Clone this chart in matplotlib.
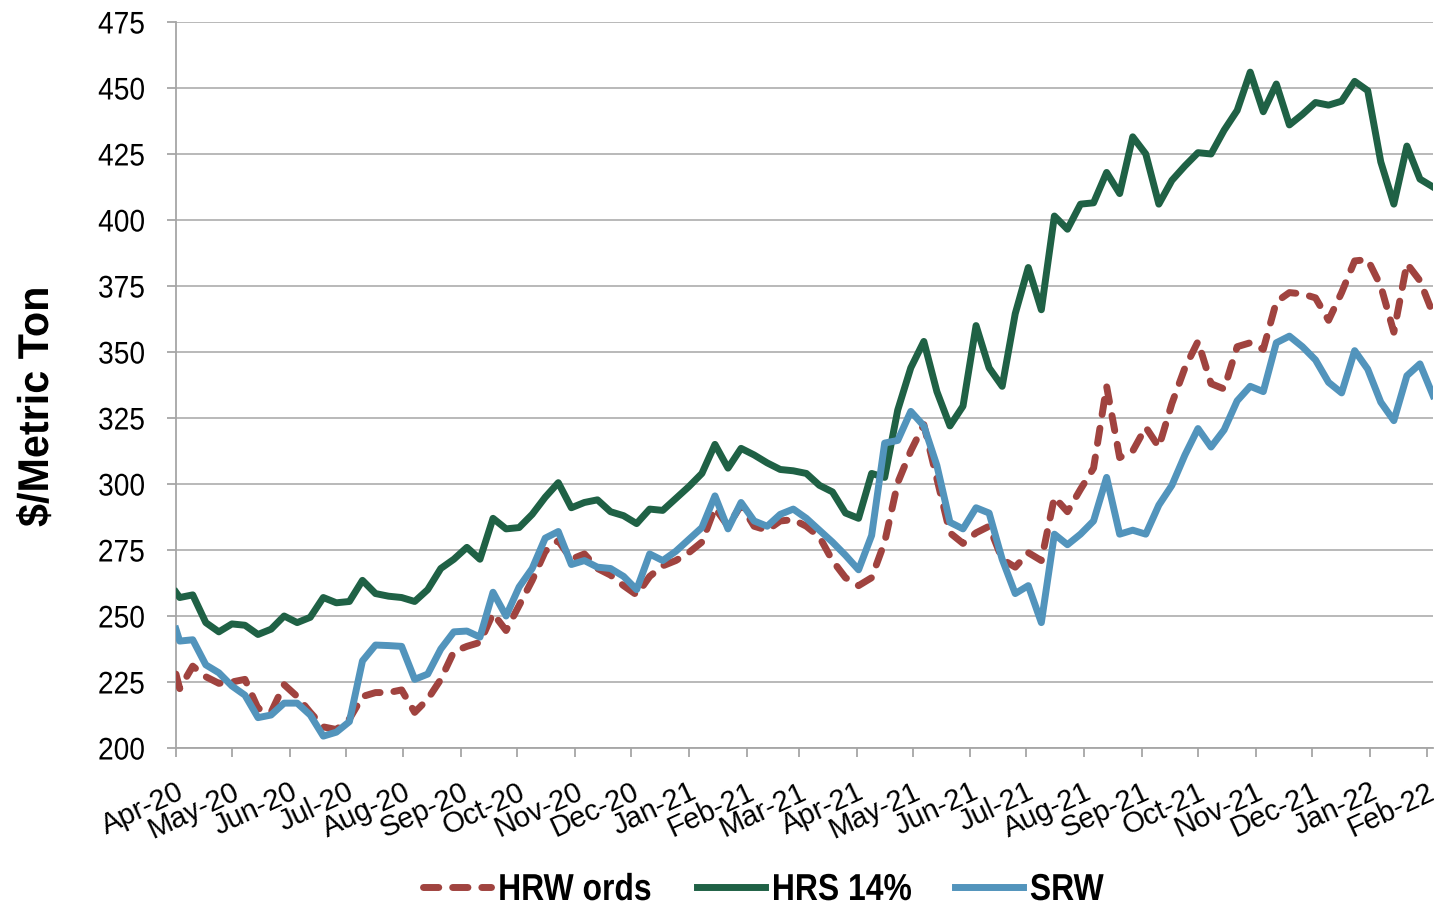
import numpy as np
import pandas as pd
import matplotlib
matplotlib.use("Agg")
import matplotlib.pyplot as plt
import matplotlib.dates as mdates
from matplotlib.patheffects import AbstractPathEffect
from matplotlib.transforms import Affine2D

# weekly prices, $/metric ton (first point Apr 1, then Fridays)
dates = [pd.Timestamp("2020-04-01")] + list(
    pd.date_range("2020-04-03", "2022-02-04", freq="7D"))

hrw_ords = [228, 222.5, 231, 227, 224.5, 225, 226, 215, 213.5, 224, 219.5,
            213.5, 208, 207, 211, 219.5, 221, 221, 222, 213.5, 218.5, 226,
            236.5, 238.5, 240, 251, 244.5, 254, 263.5, 274.5, 278.5, 271.5,
            273.5, 268, 265.5, 261.5, 258, 265, 269, 271, 274, 278, 291,
            284, 292, 284, 282.5, 286, 286.5, 284, 280, 271, 264.5, 261.5,
            264.5, 278, 300.5, 312.5, 322.5, 302, 281.5, 277.5, 281.5, 284,
            271.5, 268.5, 274, 271, 295, 289.5, 298, 306, 337, 310, 312.5,
            321.5, 314, 330.5, 344, 354, 338, 336, 352, 353.5, 351, 369,
            372.5, 372, 370.5, 362, 372.5, 384.5, 385, 375, 357.5, 383.5,
            377, 364.5]

hrs_14 = [259, 257, 258, 247.5, 244, 247, 246.5, 243, 245, 250, 247.5,
          249.5, 257, 255, 255.5, 263.5, 258.5, 257.5, 257, 255.5, 260, 268,
          271.5, 276, 271.5, 287, 283, 283.5, 288.5, 295, 300.5, 291, 293,
          294, 289.5, 288, 285, 290.5, 290, 294.5, 299, 304, 315, 306,
          313.5, 311, 308, 305.5, 305, 304, 299.5, 297, 289, 287, 304,
          302.5, 328, 344, 354, 335, 322, 329.5, 360, 344, 337, 364.5, 382,
          366, 401.5, 396.5, 406, 406.5, 418, 410, 431.5, 425, 406, 415,
          420.5, 425.5, 425, 434, 441.5, 456, 441, 451.5, 436, 440, 444.5,
          443.5, 445, 452.5, 449, 422, 406, 428, 415.5, 412.5]

srw = [245, 240.5, 241, 231.5, 228.5, 223.5, 220, 211.5, 212.5, 217, 217,
       212.5, 204.5, 206, 210, 233, 239, 238.8, 238.5, 226, 228, 237.5,
       244, 244.3, 242, 259, 250, 261, 268, 279.5, 282, 269.5, 271, 268.5,
       268, 265, 260, 273.5, 271, 274.5, 279, 283.5, 295.5, 283, 293, 286,
       284, 288.5, 290.5, 287, 282.5, 278, 273, 267.5, 280.5, 315.5, 316.5,
       327.5, 322, 307, 285.5, 283, 291, 289, 271.5, 258.5, 261.5, 247.5,
       281, 277, 281, 286, 302.5, 281, 282.5, 281, 292, 299.5, 311, 321,
       314, 320.5, 331.5, 337, 335, 353.5, 356, 352, 347, 338.5, 334.5,
       350.5, 343.5, 331, 324, 341, 345.5, 333.5]

y_ticks = np.arange(200, 476, 25)

FONT = ["Liberation Sans", "DejaVu Sans"]
GRID = "#a6a6a6"


class Squeeze(AbstractPathEffect):
    # narrow the glyphs horizontally (stand-in for Arial Narrow)
    def __init__(self, sx):
        super().__init__()
        self.sx = sx

    def draw_path(self, renderer, gc, tpath, affine, rgbFace=None):
        renderer.draw_path(gc, tpath, Affine2D().scale(self.sx, 1) + affine,
                           rgbFace)


fig = plt.figure(figsize=(14.34, 9.08), dpi=100)
ax = fig.add_axes([0.1227, 0.1762, 0.8766, 0.7996])

ax.plot(dates, hrw_ords, color="#a0433f", lw=5.0, dashes=(2.2, 2.0),
        dash_capstyle="round", label="HRW ords", zorder=3)
ax.plot(dates, hrs_14, color="#1f6145", lw=5.0, label="HRS 14%", zorder=3)
ax.plot(dates, srw, color="#5294bc", lw=5.0, label="SRW", zorder=3)

ax.set_xlim(pd.Timestamp("2020-04-01"), pd.Timestamp("2022-02-04"))
ax.set_ylim(200, 475)
ax.set_yticks(y_ticks)
ax.yaxis.grid(True, color=GRID, lw=1.1)
ax.set_axisbelow(True)

ax.xaxis.set_major_locator(mdates.MonthLocator())
ax.xaxis.set_major_formatter(mdates.DateFormatter("%b-%y"))

for s in ["top", "right"]:
    ax.spines[s].set_visible(False)
for s in ["left", "bottom"]:
    ax.spines[s].set_color(GRID)
    ax.spines[s].set_linewidth(1.3)

ax.tick_params(axis="both", direction="out", length=6.5, width=1.3,
               color=GRID)
ax.tick_params(axis="y", pad=12)
ax.tick_params(axis="x", pad=15)

for t in ax.get_yticklabels():
    t.set_family(FONT)
    t.set_fontsize(22.5)
    t.set_path_effects([Squeeze(0.9)])
for t in ax.get_xticklabels():
    t.set_family(FONT)
    t.set_fontsize(21)
    t.set_rotation(25)
    t.set_ha("right")
    t.set_va("top")
    t.set_rotation_mode("anchor")

fig.text(37 / 1434, 1 - 527 / 908, "$/Metric Ton", rotation=90,
         rotation_mode="anchor", ha="left", va="center", family=FONT,
         weight="bold", fontsize=31, path_effects=[Squeeze(0.96)])

leg = fig.legend(loc="lower center", bbox_to_anchor=(0.537, 0.0), ncol=3,
                 frameon=False, borderpad=0, borderaxespad=0,
                 handlelength=1.8, handletextpad=0.19, columnspacing=0.5,
                 prop={"family": FONT, "weight": "bold", "size": 27})
for t in leg.get_texts():
    t.set_path_effects([Squeeze(0.85)])

fig.savefig("out.png", dpi=100)
